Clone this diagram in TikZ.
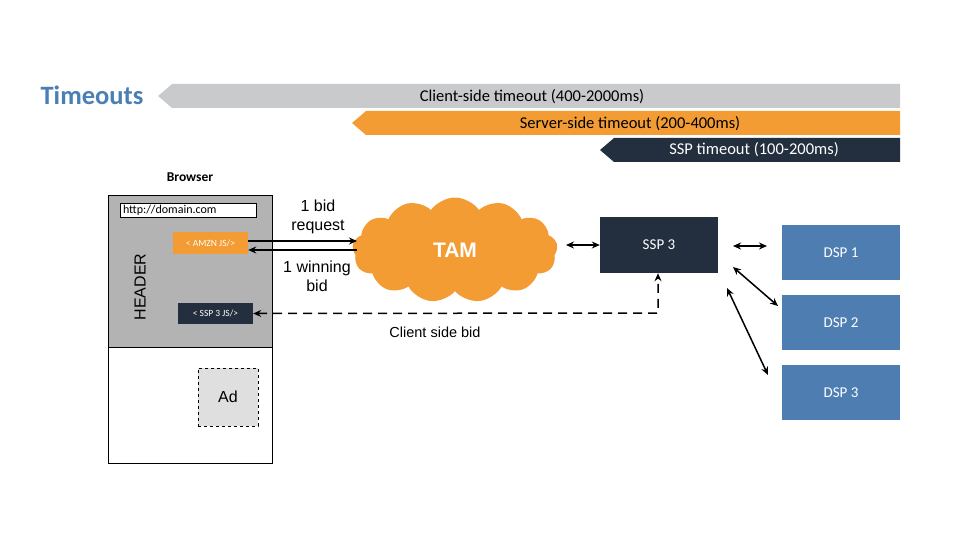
\documentclass[tikz,border=0pt]{standalone}
\usepackage{fontspec}
\setmainfont{Liberation Sans}
\newfontfamily\calib{Carlito}
\usetikzlibrary{shapes.symbols,arrows.meta}
\definecolor{tgrey}{HTML}{C9CACC}
\definecolor{torange}{HTML}{F39C34}
\definecolor{tdark}{HTML}{232F3E}
\definecolor{tblue}{HTML}{4E7DB1}
\definecolor{ttitle}{HTML}{4A7FB5}
\definecolor{hgrey}{HTML}{B3B3B3}
\begin{document}
\begin{tikzpicture}[x=1pt,y=-1pt,
  arr/.style={{Stealth[length=8pt,width=7pt]}-{Stealth[length=8pt,width=7pt]},line width=1.5pt},
  one/.style={-{Stealth[length=8pt,width=7pt]},line width=1.5pt},
  dsp/.style={fill=tblue,draw=none,minimum width=118pt,minimum height=55pt,text=white,font=\calib\fontsize{15}{17}\selectfont}]
\useasboundingbox (0,0) rectangle (960,540);
% banners
\fill[tgrey] (158,96) -- (172,84) -- (900,84) -- (900,108) -- (172,108) -- cycle;
\node (t1) at (532,97) {\calib\fontsize{16.5}{18}\selectfont Client-side timeout (400-2000ms)};
\fill[torange] (352,123) -- (366,111) -- (900,111) -- (900,135) -- (366,135) -- cycle;
\node (t2) at (630,124) {\calib\fontsize{16.5}{18}\selectfont Server-side timeout (200-400ms)};
\fill[tdark] (600,150) -- (614,138) -- (900,138) -- (900,162) -- (614,162) -- cycle;
\node[text=white] (t3) at (754,150) {\calib\fontsize{16.5}{18}\selectfont SSP timeout (100-200ms)};
\node[text=ttitle,font=\calib\bfseries\fontsize{26.5}{30}\selectfont] (title) at (92,95) {Timeouts};
% browser
\node[font=\calib\bfseries\fontsize{13.5}{15}\selectfont] (br) at (190,177) {Browser};
\fill[hgrey] (108,195) rectangle (272,347);
\draw[line width=0.9pt] (108,195) rectangle (272,463);
\draw[line width=0.9pt] (108,347) -- (272,347);
\node[draw,fill=white,line width=0.9pt,minimum width=136pt,minimum height=14pt,inner sep=0pt,text width=130pt,font=\calib\fontsize{12}{13}\selectfont] (url) at (188,210) {http://domain.com};
\node[fill=torange,minimum width=75pt,minimum height=22pt,inner sep=0pt,text=white,font=\calib\fontsize{9.5}{10}\selectfont] (amzn) at (210.5,243) {< AMZN JS/>};
\node[fill=tdark,minimum width=75pt,minimum height=21pt,inner sep=0pt,text=white,font=\calib\fontsize{9.5}{10}\selectfont] (sspjs) at (215.5,313.5) {< SSP 3 JS/>};
\node[rotate=90,font=\fontsize{16}{18}\selectfont] (hdr) at (140,287) {HEADER};
\node[draw,dashed,fill=gray!25,line width=0.9pt,minimum width=60pt,minimum height=58pt,font=\fontsize{16}{18}\selectfont] (ad) at (228,397) {Ad};
% cloud
\node[cloud,cloud puffs=13,cloud puff arc=110,aspect=2.1,fill=torange,draw=none,minimum width=205pt,minimum height=105pt,text=white,font=\bfseries\fontsize{21}{24}\selectfont] (tam) at (455,250) {TAM};
% ssp / dsp
\node[fill=tdark,minimum width=118pt,minimum height=56pt,text=white,font=\calib\fontsize{15}{17}\selectfont] (ssp) at (659,245) {SSP 3};
\node[dsp] (d1) at (841,252.5) {DSP 1};
\node[dsp] (d2) at (841,322.5) {DSP 2};
\node[dsp] (d3) at (841,392.5) {DSP 3};
% arrows
\draw[one] (amzn.east|-0,241) -- (357,241) coordinate (q1);
\draw[one] (357,250) coordinate (q2) -- (amzn.east|-0,250);
\node[align=center,font=\fontsize{16}{19}\selectfont] (l1) at (318,217) {1 bid\\request};
\node[align=center,font=\fontsize{16}{19}\selectfont] (l2) at (317,276) {1 winning\\bid};
\draw[arr] (566,245) coordinate (a1) -- (ssp.west);
\draw[arr] (733,246) coordinate (b1) -- (767,246) coordinate (b2);
\draw[arr] (733,267) coordinate (c1) -- (778,306) coordinate (c2);
\draw[arr] (727,288) coordinate (e1) -- (768,375) coordinate (e2);
\draw[arr,dash pattern=on 9pt off 6pt] (sspjs.east) -- (658,313) coordinate (k) -- (ssp.south-|k);
\node[font=\fontsize{14.5}{17}\selectfont] (cb) at (435,332) {Client side bid};
\end{tikzpicture}
\end{document}
